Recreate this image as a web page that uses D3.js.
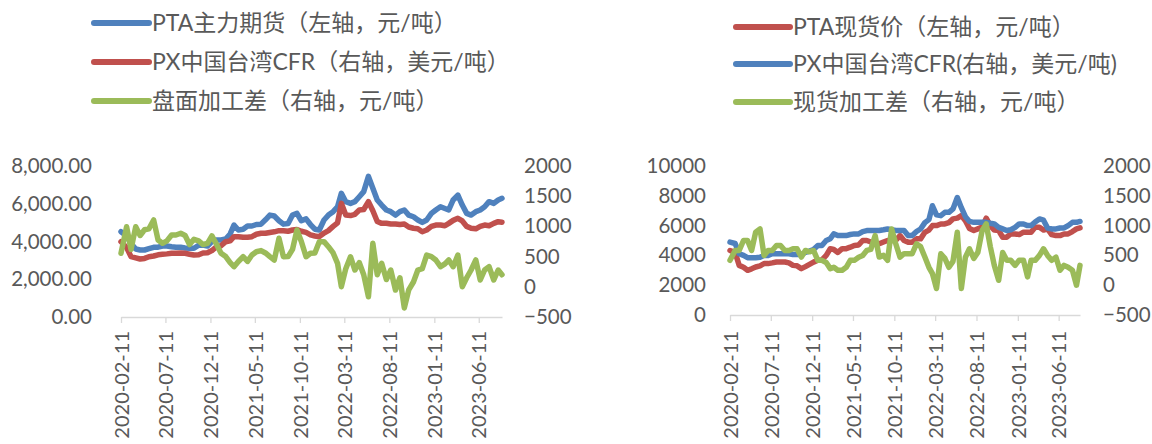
<!DOCTYPE html>
<html>
<head>
<meta charset="utf-8">
<script src="https://cdn.jsdelivr.net/npm/d3@7"></script>
<style>
  html, body { margin: 0; padding: 0; background: #fff; }
  svg text { font-family: "Lato", "Noto Sans CJK SC", sans-serif; fill: #595959; }
</style>
</head>
<body>
<div id="chart"></div>
<script>
// Shared dates (semi-monthly samples)
const dates = [
  "2020-02-11","2020-03-01","2020-03-16","2020-04-01","2020-04-16","2020-05-01","2020-05-16","2020-06-01","2020-06-16","2020-07-01",
  "2020-07-16","2020-08-01","2020-08-16","2020-09-01","2020-09-16","2020-10-01","2020-10-16","2020-11-01","2020-11-16","2020-12-01",
  "2020-12-16","2021-01-01","2021-01-16","2021-02-01","2021-02-16","2021-03-01","2021-03-16","2021-04-01","2021-04-16","2021-05-01",
  "2021-05-16","2021-06-01","2021-06-16","2021-07-01","2021-07-16","2021-08-01","2021-08-16","2021-09-01","2021-09-16","2021-10-01",
  "2021-10-16","2021-11-01","2021-11-16","2021-12-01","2021-12-16","2022-01-01","2022-01-16","2022-02-01","2022-02-16","2022-03-01",
  "2022-03-16","2022-04-01","2022-04-16","2022-05-01","2022-05-16","2022-06-01","2022-06-16","2022-07-01","2022-07-16","2022-08-01",
  "2022-08-16","2022-09-01","2022-09-16","2022-10-01","2022-10-16","2022-11-01","2022-11-16","2022-12-01","2022-12-16","2023-01-01",
  "2023-01-16","2023-02-01","2023-02-16","2023-03-01","2023-03-16","2023-04-01","2023-04-16","2023-05-01","2023-05-16","2023-06-01",
  "2023-06-16","2023-07-01","2023-07-16","2023-08-01","2023-08-16","2023-08-29"
];
const tickDates = ["2020-02-11","2020-07-11","2020-12-11","2021-05-11","2021-10-11","2022-03-11","2022-08-11","2023-01-11","2023-06-11"];

// Left chart
const ptaFutures = [4520,4300,3900,3600,3550,3550,3620,3690,3700,3760, 3760,3720,3690,3690,3660,3640,3640,3800,3810,3760,
  4000,4080,4080,4130,4400,4870,4610,4650,4820,4820, 4900,4920,5150,5400,5350,5100,4920,4950,5400,5490,
  5100,5200,4900,4650,4610,5140,5400,5580,5840,6550, 6110,6020,6110,6370,6640,7450,6820,6200,5930,5670,
  5580,5400,5580,5670,5400,5310,5140,5010,5140,5490, 5670,5840,5750,5670,6200,6460,5930,5490,5400,5580,
  5670,5840,6110,6020,6200,6290];
const pxCfrLeft = [747,650,500,480,460,470,498,510,530,538, 545,555,555,560,555,540,526,530,560,565,
  600,664,680,747,760,830,830,820,820,830, 870,886,886,900,910,929,929,920,940,950,
  920,900,860,841,830,890,930,1000,1060,1382, 1189,1180,1200,1272,1280,1409,1260,1080,1051,1051,
  1040,1040,1030,1040,990,969,960,912,940,1000, 1023,1023,1010,1050,1100,1134,1090,1000,969,960,
  1000,1023,1010,1050,1078,1070];
const futuresSpread = [555,995,620,995,850,945,960,1106,775,720, 760,858,858,886,850,700,786,760,700,720,
  842,700,555,500,400,333,420,498,420,526, 580,600,560,500,444,803,498,500,620,940,
  750,498,555,560,747,747,664,560,389,2, 300,498,278,400,200,-164,720,200,389,120,
  278,-53,150,-350,-50,80,278,300,526,500, 444,333,380,444,333,526,2,150,278,444,
  113,278,333,113,278,200];

// Right chart
const ptaSpot = [4330,4200,3330,3200,3000,3100,3220,3300,3450,3450, 3500,3560,3560,3560,3500,3330,3300,3110,3250,3400,
  3550,3670,3700,4000,4450,4400,4200,4450,4450,4550, 4670,4700,5000,5000,4900,4780,4780,4900,5000,5000,
  5000,5330,5000,4890,4890,5110,5110,5550,5700,6000, 6000,6110,6110,6200,6450,6500,6670,6330,5800,5670,
  5780,5900,6500,6000,5700,5670,5220,5220,5440,5440, 5400,5560,5560,5560,5890,5890,5700,5780,5400,5330,
  5330,5440,5440,5600,5780,5850];
const pxCfrRight = [722,700,528,500,462,462,462,470,500,500, 528,528,528,528,528,515,515,515,550,572,
  600,667,667,750,780,861,833,833,833,850, 861,861,900,917,917,917,917,930,944,930,
  917,917,917,833,833,900,944,1050,1100,1333, 1180,1167,1222,1222,1280,1472,1300,1150,1070,1055,
  1055,1055,1055,1040,1028,970,944,917,930,970, 1028,1028,1000,1000,1060,1111,1090,960,944,944,
  960,960,1000,1055,1055,1070];
const spotSpread = [417,583,583,750,750,583,889,944,500,583, 583,667,667,583,583,611,611,472,583,560,
  583,417,417,380,278,300,250,250,300,417, 417,470,500,583,600,833,472,500,417,944,
  700,472,528,528,528,694,650,472,300,194, -55,528,450,300,400,889,-55,470,611,450,
  550,917,1028,650,330,83,550,417,417,333, 420,417,139,417,417,500,611,500,417,470,
  250,333,300,250,0,333];

const leftTicksA = [0, 2000, 4000, 6000, 8000];
const leftTicksB = [0, 2000, 4000, 6000, 8000, 10000];
const rightTicks = [-500, 0, 500, 1000, 1500, 2000];

const BLUE = '#4F81BD', RED = '#C0504D', GREEN = '#9BBB59';
const parse = d3.timeParse('%Y-%m-%d');

const svg = d3.select('#chart').append('svg')
  .attr('width', 1152).attr('height', 444);
svg.append('rect').attr('width', 1152).attr('height', 444).attr('fill', '#fff');

function drawPanel(cfg) {
  const g = svg.append('g');

  const x = d3.scaleTime()
    .domain([parse(dates[0]), parse(dates[dates.length - 1])])
    .range([cfg.x0, cfg.x1]);
  const yL = d3.scaleLinear().domain(cfg.leftDomain).range([cfg.yBot, cfg.yTop]);
  const yR = d3.scaleLinear().domain([-500, 2000]).range([cfg.yBot, cfg.yTop]);

  // x axis
  const xAxis = g.append('g')
    .attr('transform', `translate(0,${cfg.yBot})`)
    .call(d3.axisBottom(x)
      .tickValues(tickDates.map(parse))
      .tickFormat(d3.timeFormat('%Y-%m-%d'))
      .tickSize(6).tickSizeOuter(0));
  xAxis.select('.domain').attr('stroke', '#D9D9D9').attr('stroke-width', 1.3);
  xAxis.selectAll('.tick line').attr('stroke', '#D9D9D9').attr('stroke-width', 1.3);
  xAxis.selectAll('.tick text')
    .attr('transform', 'rotate(-90)')
    .attr('text-anchor', 'end')
    .attr('x', -cfg.labelGap).attr('y', 0).attr('dy', '0.36em')
    .style('font-size', '20px');

  // left value axis
  const aL = g.append('g')
    .attr('transform', `translate(${cfg.x0},0)`)
    .call(d3.axisLeft(yL).tickValues(cfg.leftTicks).tickFormat(cfg.leftFmt)
      .tickSize(0).tickPadding(cfg.x0 - cfg.leftLabelX));
  aL.select('.domain').remove();
  aL.selectAll('text').style('font-size', '20.5px');

  // right value axis
  const aR = g.append('g')
    .attr('transform', `translate(${cfg.x1},0)`)
    .call(d3.axisRight(yR).tickValues(rightTicks).tickFormat(d3.format('d'))
      .tickSize(0).tickPadding(cfg.rightLabelX - cfg.x1));
  aR.select('.domain').remove();
  aR.selectAll('text').style('font-size', '20.5px');

  // series
  cfg.series.forEach(s => {
    const yScale = s.axis === 'L' ? yL : yR;
    const line = d3.line()
      .x((d, i) => x(parse(dates[i])))
      .y(d => yScale(d));
    g.append('path')
      .datum(s.values)
      .attr('d', line)
      .attr('fill', 'none')
      .attr('stroke', s.color)
      .attr('stroke-width', 5.5)
      .attr('stroke-linejoin', 'round')
      .attr('stroke-linecap', 'round');
  });

  // legend
  const lg = g.append('g');
  cfg.series.forEach((s, i) => {
    const ly = cfg.legendY[i];
    lg.append('line')
      .attr('x1', cfg.legendX1).attr('x2', cfg.legendX2)
      .attr('y1', ly).attr('y2', ly)
      .attr('stroke', s.color).attr('stroke-width', 6)
      .attr('stroke-linecap', 'round');
    lg.append('text')
      .attr('x', cfg.legendX2 + 3).attr('y', ly)
      .attr('dy', '0.36em')
      .style('font-size', '23px')
      .text(s.name);
  });
}

drawPanel({
  x0: 121, x1: 502, yTop: 166, yBot: 317,
  leftDomain: [0, 8000], leftTicks: leftTicksA, leftFmt: d3.format(',.2f'),
  leftLabelX: 92, rightLabelX: 524, labelGap: 14,
  legendX1: 94, legendX2: 149, legendY: [23, 62, 101],
  series: [
    { name: 'PTA主力期货（左轴，元/吨）', values: ptaFutures, axis: 'L', color: BLUE },
    { name: 'PX中国台湾CFR（右轴，美元/吨）', values: pxCfrLeft, axis: 'R', color: RED },
    { name: '盘面加工差（右轴，元/吨）', values: futuresSpread, axis: 'R', color: GREEN }
  ]
});

drawPanel({
  x0: 730, x1: 1080, yTop: 166, yBot: 315,
  leftDomain: [0, 10000], leftTicks: leftTicksB, leftFmt: d3.format('d'),
  leftLabelX: 706, rightLabelX: 1103, labelGap: 16,
  legendX1: 736, legendX2: 790, legendY: [27, 64, 102],
  series: [
    { name: 'PTA现货价（左轴，元/吨）', values: ptaSpot, axis: 'L', color: RED },
    { name: 'PX中国台湾CFR(右轴，美元/吨)', values: pxCfrRight, axis: 'R', color: BLUE },
    { name: '现货加工差（右轴，元/吨）', values: spotSpread, axis: 'R', color: GREEN }
  ]
});
</script>
</body>
</html>
